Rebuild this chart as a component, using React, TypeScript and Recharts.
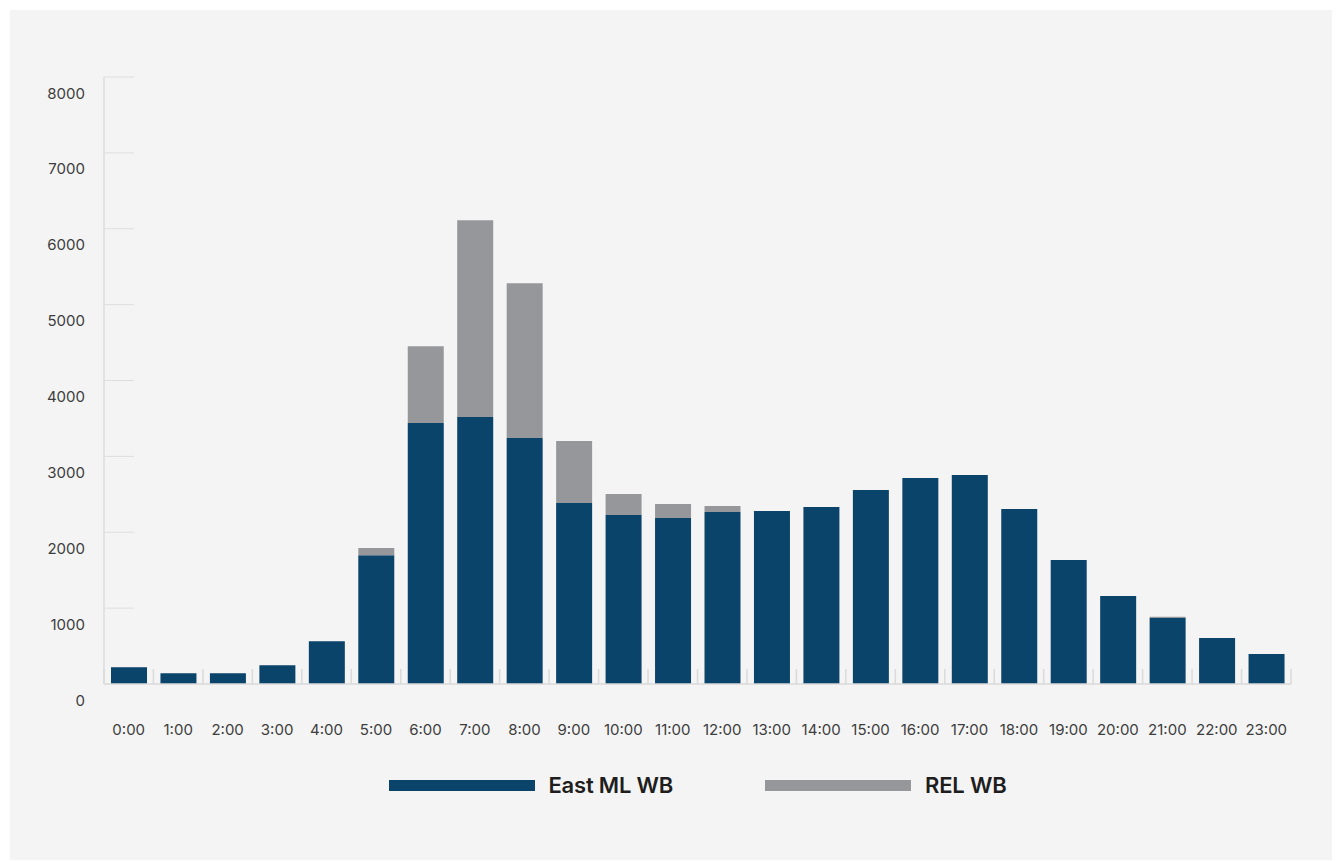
import React from 'react';
import { BarChart, Bar, XAxis, YAxis } from 'recharts';

const hours = [
  '0:00', '1:00', '2:00', '3:00', '4:00', '5:00', '6:00', '7:00', '8:00', '9:00', '10:00', '11:00',
  '12:00', '13:00', '14:00', '15:00', '16:00', '17:00', '18:00', '19:00', '20:00', '21:00', '22:00', '23:00',
];
const eastMlWb = [
  220, 141, 141, 246, 563, 1696, 3439, 3518, 3241, 2385, 2227, 2187,
  2266, 2279, 2332, 2556, 2714, 2754, 2306, 1634, 1159, 870, 606, 395,
];
const relWb = [
  0, 0, 0, 0, 0, 96, 1014, 2595, 2042, 817, 276, 185,
  79, 0, 0, 0, 0, 0, 0, 0, 0, 15, 0, 0,
];
const yTicks = [0, 1000, 2000, 3000, 4000, 5000, 6000, 7000, 8000];

const BLUE = '#0b446b';
const GRAY = '#96979b';
const FONT = 'Inter, "Noto Sans", sans-serif';

const data = hours.map((hour, i) => ({ hour, east: eastMlWb[i], rel: relWb[i] }));

const PLOT_W = 1187;
const BAND = PLOT_W / hours.length;

// y ticks: short inward tick line, label sits a bit below it
const YTick = (props: any) => {
  const { x, y, payload } = props;
  return (
    <g>
      {payload.value > 0 && <line x1={x} x2={x + 30} y1={y} y2={y} stroke="#dedede" strokeWidth={1} />}
      <text x={x - 19} y={y + 16} textAnchor="end" dominantBaseline="central" fontSize={15} fill="#3d3d3d" fontFamily={FONT}>
        {payload.value}
      </text>
    </g>
  );
};

// x ticks: separators between hours instead of at the band centre
const XTick = (props: any) => {
  const { x, y, payload, index } = props;
  return (
    <g>
      <line x1={x - BAND / 2} x2={x - BAND / 2} y1={y - 15} y2={y} stroke="#dadada" strokeWidth={1.5} />
      {index === hours.length - 1 && (
        <line x1={x + BAND / 2} x2={x + BAND / 2} y1={y - 15} y2={y} stroke="#dadada" strokeWidth={1.5} />
      )}
      <text x={x} y={y + 45} textAnchor="middle" dominantBaseline="central" fontSize={15} fill="#3d3d3d" fontFamily={FONT}>
        {payload.value}
      </text>
    </g>
  );
};

function LegendItem({ color, label }: { color: string; label: string }) {
  return (
    <div style={{ display: 'flex', alignItems: 'center' }}>
      <div style={{ width: 146, height: 11, background: color, marginRight: 14 }} />
      <span style={{ fontSize: 22, fontWeight: 600, color: '#1e1e1e', letterSpacing: -0.2 }}>{label}</span>
    </div>
  );
}

export default function App() {
  return (
    <div style={{ paddingTop: 2, paddingLeft: 2 }}>
      <div style={{ position: 'relative', width: 1330, height: 850, background: '#f4f4f4', fontFamily: FONT }}>
        <BarChart
          width={1330}
          height={850}
          data={data}
          barSize={36}
          margin={{ top: 67, right: 49, bottom: 116, left: 0 }}
        >
          <YAxis
            type="number"
            domain={[0, 8000]}
            ticks={yTicks}
            width={94}
            axisLine={{ stroke: '#dedede', strokeWidth: 1.5 }}
            tickLine={false}
            tickSize={0}
            tickMargin={0}
            tick={<YTick />}
          />
          <XAxis
            dataKey="hour"
            height={60}
            interval={0}
            axisLine={{ stroke: '#dadada', strokeWidth: 1.5 }}
            tickLine={false}
            tickSize={0}
            tickMargin={0}
            tick={<XTick />}
          />
          <Bar dataKey="east" stackId="a" fill={BLUE} isAnimationActive={false} />
          <Bar dataKey="rel" stackId="a" fill={GRAY} isAnimationActive={false} />
        </BarChart>
        <div
          style={{
            position: 'absolute',
            left: 94,
            width: PLOT_W,
            top: 762,
            display: 'flex',
            justifyContent: 'center',
            gap: 92,
          }}
        >
          <LegendItem color={BLUE} label="East ML WB" />
          <LegendItem color={GRAY} label="REL WB" />
        </div>
      </div>
    </div>
  );
}
